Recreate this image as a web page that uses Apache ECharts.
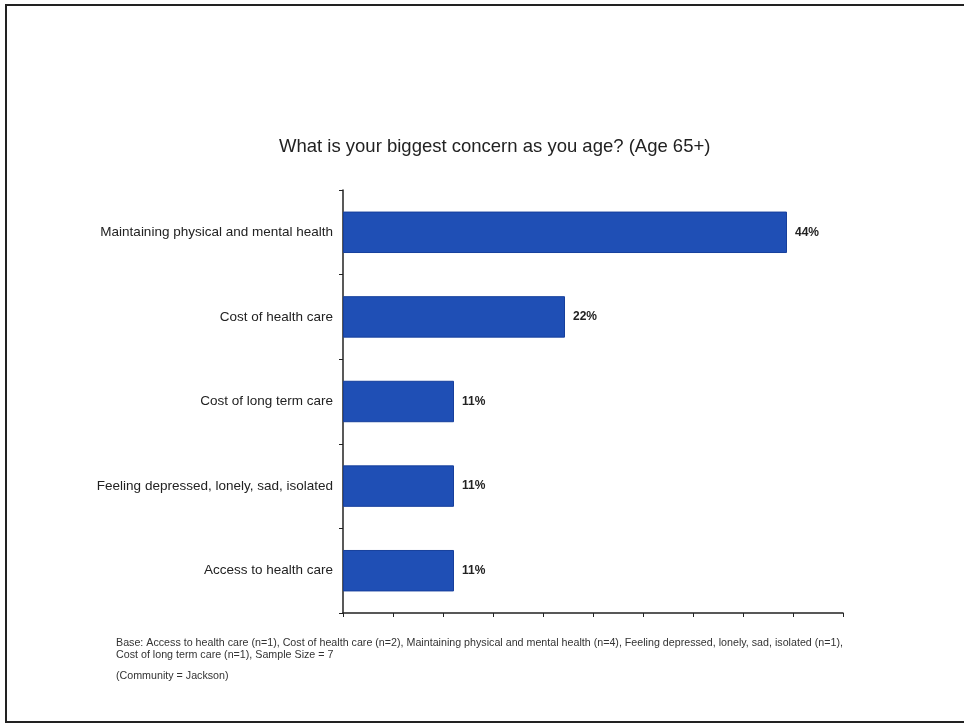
<!DOCTYPE html>
<html>
<head>
<meta charset="utf-8">
<script src="https://cdn.jsdelivr.net/npm/echarts@6/dist/echarts.min.js"></script>
<style>
  html, body { margin: 0; padding: 0; background: #fff; }
  #chart { width: 964px; height: 725px; }
</style>
</head>
<body>
<div id="chart"></div>
<script>
// categories top to bottom
var categories = [
  'Maintaining physical and mental health',
  'Cost of health care',
  'Cost of long term care',
  'Feeling depressed, lonely, sad, isolated',
  'Access to health care'
];
// percent of responses (n / 9)
var values = [44.4, 22.2, 11.1, 11.1, 11.1];
var footLines = [
  'Base: Access to health care (n=1), Cost of health care (n=2), Maintaining physical and mental health (n=4), Feeling depressed, lonely, sad, isolated (n=1),',
  'Cost of long term care (n=1), Sample Size = 7',
  '(Community = Jackson)'
];
var footY = [638, 650, 671];

var chart = echarts.init(document.getElementById('chart'));

var graphics = [
  // slide border (scan)
  { type: 'rect', shape: { x: 6, y: 5, width: 970, height: 717 },
    style: { fill: 'none', stroke: '#222', lineWidth: 2 } }
];
footLines.forEach(function (t, i) {
  graphics.push({
    type: 'text', left: 116, top: footY[i],
    style: { text: t, fill: '#333', font: '10.7px "Liberation Sans Narrow", "Liberation Sans", Arial, sans-serif' }
  });
});

var option = {
  backgroundColor: '#fff',
  animation: false,
  title: {
    text: 'What is your biggest concern as you age? (Age 65+)',
    left: 274,
    top: 132,
    textStyle: { fontFamily: '"Liberation Sans", Arial, sans-serif', fontSize: 18.5, fontWeight: 'normal', color: '#222' }
  },
  grid: { left: 343, right: 121, top: 190, bottom: 112, containLabel: false },
  xAxis: {
    type: 'value', min: 0, max: 50, interval: 5,
    axisLine: { show: true, lineStyle: { color: '#222', width: 1.5 } },
    axisTick: { show: true, length: 4, lineStyle: { color: '#222' } },
    axisLabel: { show: false },
    splitLine: { show: false }
  },
  yAxis: {
    type: 'category', data: categories, inverse: true,
    axisLine: { show: true, lineStyle: { color: '#222', width: 1.5 } },
    axisTick: { show: true, length: 4, lineStyle: { color: '#222' } },
    axisLabel: { margin: 10, color: '#222', fontSize: 13.5, fontFamily: '"Liberation Sans", Arial, sans-serif' }
  },
  series: [{
    type: 'bar',
    data: values,
    barCategoryGap: '51%',
    itemStyle: { color: '#1f4fb5', borderColor: '#163f9c', borderWidth: 1 },
    label: {
      show: true, position: 'right', distance: 8,
      color: '#222', fontSize: 12, fontWeight: 'bold', fontFamily: '"Liberation Sans", Arial, sans-serif',
      formatter: function (p) { return Math.round(p.value) + '%'; }
    }
  }],
  graphic: graphics
};
chart.setOption(option);
</script>
</body>
</html>
